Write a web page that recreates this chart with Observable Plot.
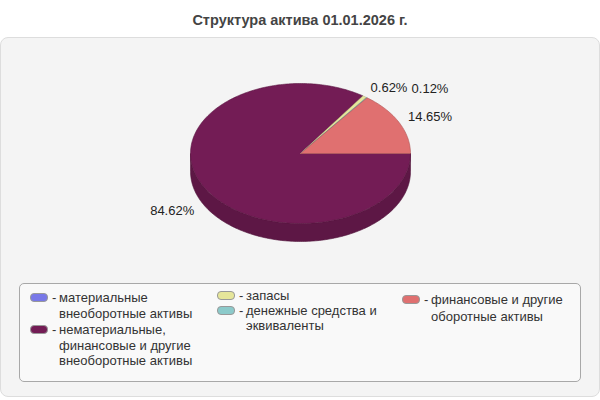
<!DOCTYPE html>
<html>
<head>
<meta charset="utf-8">
<script src="https://cdn.jsdelivr.net/npm/d3@7"></script>
<script src="https://cdn.jsdelivr.net/npm/@observablehq/plot@0.6"></script>
<style>
  body { margin: 0; background: #fff; font-family: "Liberation Sans", Arial, sans-serif; }
  #wrap { position: relative; width: 600px; height: 400px; overflow: hidden; }
  #title { position: absolute; top: 11px; left: 0; width: 600px; text-align: center; font-weight: bold; font-size: 14.5px; line-height: 18px; color: #444; }
  #panel { position: absolute; left: 0; top: 37px; width: 598px; height: 358px; border: 1px solid #ddd; border-radius: 8px; background: #f4f4f4; }
  #chart { position: absolute; left: 0; top: 0; }
  #legend { position: absolute; left: 19px; top: 283px; width: 560px; height: 97px; border: 1px solid #a8a8a8; border-radius: 5px; background: #f9f9f9; }
  .item { position: absolute; display: flex; align-items: flex-start; font-size: 13px; color: #333; }
  .sw { display: inline-block; width: 16px; height: 7px; border: 1px solid #999; border-radius: 4px; margin-right: 4px; flex: none; }
  .dash { width: 7px; flex: none; }
</style>
</head>
<body>
<div id="wrap">
  <div id="title"></div>
  <div id="panel"></div>
  <div id="chart"></div>
  <div id="legend"></div>
</div>
<script>
const title = "Структура актива 01.01.2026 г.";
const categories = [
  "материальные внеоборотные активы",
  "нематериальные, финансовые и другие внеоборотные активы",
  "запасы",
  "денежные средства и эквиваленты",
  "финансовые и другие оборотные активы"
];
const legendLines = [
  ["материальные", "внеоборотные активы"],
  ["нематериальные,", "финансовые и другие", "внеоборотные активы"],
  ["запасы"],
  ["денежные средства и", "эквиваленты"],
  ["финансовые и другие", "оборотные активы"]
];
const values = [0.00, 84.62, 0.62, 0.12, 14.65];
const colors = ["#7878e8", "#731c55", "#e6e69a", "#8ccaca", "#e07070"];

// layout
const cx = 300, cy = 153, rx = 110, ry = 70, depth = 18;
const legendPos = [
  {left: 10, top: 6, lh: 16},
  {left: 10, top: 38, lh: 15.5},
  {left: 197, top: 4, lh: 16},
  {left: 197, top: 19, lh: 15},
  {left: 382, top: 8, lh: 16.5}
];

document.getElementById("title").textContent = title;

const total = d3.sum(values);
let cum = 0;
const slices = values.map((v, i) => {
  const a0 = cum / total * 2 * Math.PI;
  cum += v;
  const a1 = cum / total * 2 * Math.PI;
  return {i, v, a0, a1, color: colors[i], name: categories[i]};
});

const topPts = [], sidePts = [];
for (const s of slices) {
  if (s.v <= 0) continue;
  const fill = s.color, stroke = d3.color(s.color).darker(0.7).formatHex();
  const n = Math.max(2, Math.ceil((s.a1 - s.a0) / (Math.PI / 180)));
  topPts.push({id: s.i, x: cx, y: cy, fill, stroke});
  for (let k = 0; k <= n; k++) {
    const a = s.a0 + (s.a1 - s.a0) * k / n;
    topPts.push({id: s.i, x: cx + rx * Math.cos(a), y: cy + ry * Math.sin(a), fill, stroke});
  }
  topPts.push({id: s.i, x: cx, y: cy, fill, stroke});
  const lo = Math.max(s.a0, 0), hi = Math.min(s.a1, Math.PI);
  if (lo < hi) {
    const sf = d3.color(s.color).darker(0.6).formatHex();
    const ss = d3.color(s.color).darker(1.0).formatHex();
    const m = Math.max(2, Math.ceil((hi - lo) / (Math.PI / 180)));
    const arc = [];
    for (let k = 0; k <= m; k++) arc.push(lo + (hi - lo) * k / m);
    for (const a of arc) sidePts.push({id: s.i, x: cx + rx * Math.cos(a), y: cy + ry * Math.sin(a), fill: sf, stroke: ss});
    for (const a of arc.slice().reverse()) sidePts.push({id: s.i, x: cx + rx * Math.cos(a), y: cy + ry * Math.sin(a) + depth, fill: sf, stroke: ss});
    sidePts.push({...sidePts[sidePts.length - 2 * arc.length]});
  }
}

// labels
const labels = [];
for (const s of slices) {
  if (s.v <= 0) continue;
  const m = (s.a0 + s.a1) / 2;
  const c = Math.cos(m), sn = Math.sin(m);
  const text = s.v.toFixed(2) + "%";
  labels.push({
    text,
    right: c >= 0,
    x: cx + (rx + 10) * c,
    y: cy + (ry + 10) * sn + (sn > 0 ? depth + 2 : -1),
    w: text.length * 7.2
  });
}
for (let k = 1; k < labels.length; k++) {
  const p = labels[k - 1], q = labels[k];
  if (p.right && q.right && Math.abs(q.y - p.y) < 12 && q.x < p.x + p.w + 5) {
    q.x = p.x + p.w + 5;
  }
}

const plot = Plot.plot({
  width: 600,
  height: 270,
  margin: 0,
  style: {background: "transparent", fontFamily: "'Liberation Sans', Arial, sans-serif"},
  x: {domain: [0, 600], range: [0, 600], axis: null},
  y: {domain: [0, 270], range: [0, 270], axis: null},
  color: {type: "identity"},
  marks: [
    Plot.line(sidePts, {x: "x", y: "y", z: "id", fill: "fill", stroke: "stroke", strokeWidth: 0.6, curve: "linear"}),
    Plot.line(topPts, {x: "x", y: "y", z: "id", fill: "fill", stroke: "stroke", strokeWidth: 0.6, curve: "linear"}),
    Plot.text(labels.filter(d => d.right), {x: "x", y: "y", text: "text", textAnchor: "start", fontSize: 13, fill: "#222"}),
    Plot.text(labels.filter(d => !d.right), {x: "x", y: "y", text: "text", textAnchor: "end", fontSize: 13, fill: "#222"})
  ]
});
document.getElementById("chart").appendChild(plot);

// legend
const legend = document.getElementById("legend");
categories.forEach((name, i) => {
  const pos = legendPos[i];
  const item = document.createElement("div");
  item.className = "item";
  item.style.left = pos.left + "px";
  item.style.top = pos.top + "px";
  item.style.lineHeight = pos.lh + "px";
  item.title = name;
  const sw = document.createElement("span");
  sw.className = "sw";
  sw.style.background = colors[i];
  sw.style.marginTop = (pos.lh / 2 - 5) + "px";
  const dash = document.createElement("span");
  dash.className = "dash";
  dash.textContent = "-";
  const txt = document.createElement("div");
  txt.innerHTML = legendLines[i].join("<br>");
  item.append(sw, dash, txt);
  legend.appendChild(item);
});
</script>
</body>
</html>
